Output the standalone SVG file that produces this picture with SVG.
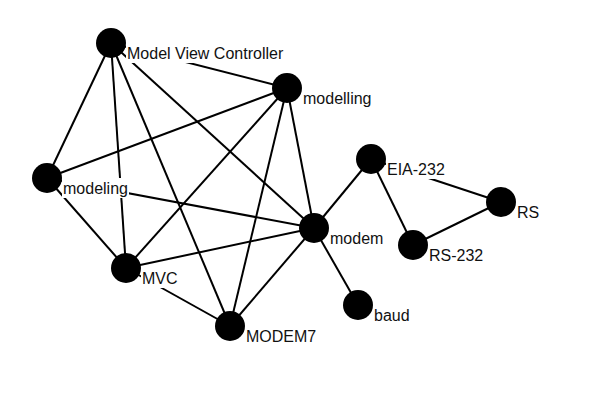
<svg xmlns="http://www.w3.org/2000/svg" width="608" height="398" viewBox="0 0 608 398">
  <style>
    .edge { stroke: #000; stroke-width: 2; fill: none; }
    .dot { fill: #000; }
    .bg { fill: #fff; }
    .lbl { font-family: "Liberation Sans", Arial, sans-serif; font-size: 16px; fill: #111; }
  </style>
  <rect width="608" height="398" fill="#fff"/>
  <g id="edges">
    <line class="edge" x1="111" y1="43" x2="287" y2="88"/>
    <line class="edge" x1="111" y1="43" x2="47" y2="178"/>
    <line class="edge" x1="111" y1="43" x2="126" y2="268"/>
    <line class="edge" x1="111" y1="43" x2="230" y2="326"/>
    <line class="edge" x1="111" y1="43" x2="314" y2="228"/>
    <line class="edge" x1="287" y1="88" x2="47" y2="178"/>
    <line class="edge" x1="287" y1="88" x2="126" y2="268"/>
    <line class="edge" x1="287" y1="88" x2="230" y2="326"/>
    <line class="edge" x1="287" y1="88" x2="314" y2="228"/>
    <line class="edge" x1="47" y1="178" x2="126" y2="268"/>
    <line class="edge" x1="47" y1="178" x2="314" y2="228"/>
    <line class="edge" x1="126" y1="268" x2="314" y2="228"/>
    <line class="edge" x1="126" y1="268" x2="230" y2="326"/>
    <line class="edge" x1="314" y1="228" x2="230" y2="326"/>
    <line class="edge" x1="314" y1="228" x2="371" y2="159"/>
    <line class="edge" x1="314" y1="228" x2="358" y2="305"/>
    <line class="edge" x1="371" y1="159" x2="413" y2="245"/>
    <line class="edge" x1="371" y1="159" x2="501" y2="202"/>
    <line class="edge" x1="413" y1="245" x2="501" y2="202"/>
  </g>
  <g id="node-model-view-controller">
    <circle class="dot" cx="111" cy="43" r="15"/>
    <rect class="bg" x="126" y="43" width="158" height="20"/>
    <text class="lbl" x="127" y="59">Model View Controller</text>
  </g>
  <g id="node-modelling">
    <circle class="dot" cx="287" cy="88" r="15"/>
    <rect class="bg" x="302" y="88" width="70" height="20"/>
    <text class="lbl" x="303" y="104">modelling</text>
  </g>
  <g id="node-modeling">
    <circle class="dot" cx="47" cy="178" r="15"/>
    <rect class="bg" x="62" y="178" width="67" height="20"/>
    <text class="lbl" x="63" y="194">modeling</text>
  </g>
  <g id="node-mvc">
    <circle class="dot" cx="126" cy="268" r="15"/>
    <rect class="bg" x="141" y="268" width="38" height="20"/>
    <text class="lbl" x="142" y="284">MVC</text>
  </g>
  <g id="node-modem">
    <circle class="dot" cx="314" cy="228" r="15"/>
    <rect class="bg" x="329" y="228" width="55" height="20"/>
    <text class="lbl" x="330" y="244">modem</text>
  </g>
  <g id="node-modem7">
    <circle class="dot" cx="230" cy="326" r="15"/>
    <rect class="bg" x="245" y="326" width="72" height="20"/>
    <text class="lbl" x="246" y="342">MODEM7</text>
  </g>
  <g id="node-baud">
    <circle class="dot" cx="358" cy="305" r="15"/>
    <rect class="bg" x="373" y="305" width="38" height="20"/>
    <text class="lbl" x="374" y="321">baud</text>
  </g>
  <g id="node-eia-232">
    <circle class="dot" cx="371" cy="159" r="15"/>
    <rect class="bg" x="386" y="159" width="60" height="20"/>
    <text class="lbl" x="387" y="175">EIA-232</text>
  </g>
  <g id="node-rs">
    <circle class="dot" cx="501" cy="202" r="15"/>
    <rect class="bg" x="516" y="202" width="24" height="20"/>
    <text class="lbl" x="517" y="218">RS</text>
  </g>
  <g id="node-rs-232">
    <circle class="dot" cx="413" cy="245" r="15"/>
    <rect class="bg" x="428" y="245" width="56" height="20"/>
    <text class="lbl" x="429" y="261">RS-232</text>
  </g>
</svg>
